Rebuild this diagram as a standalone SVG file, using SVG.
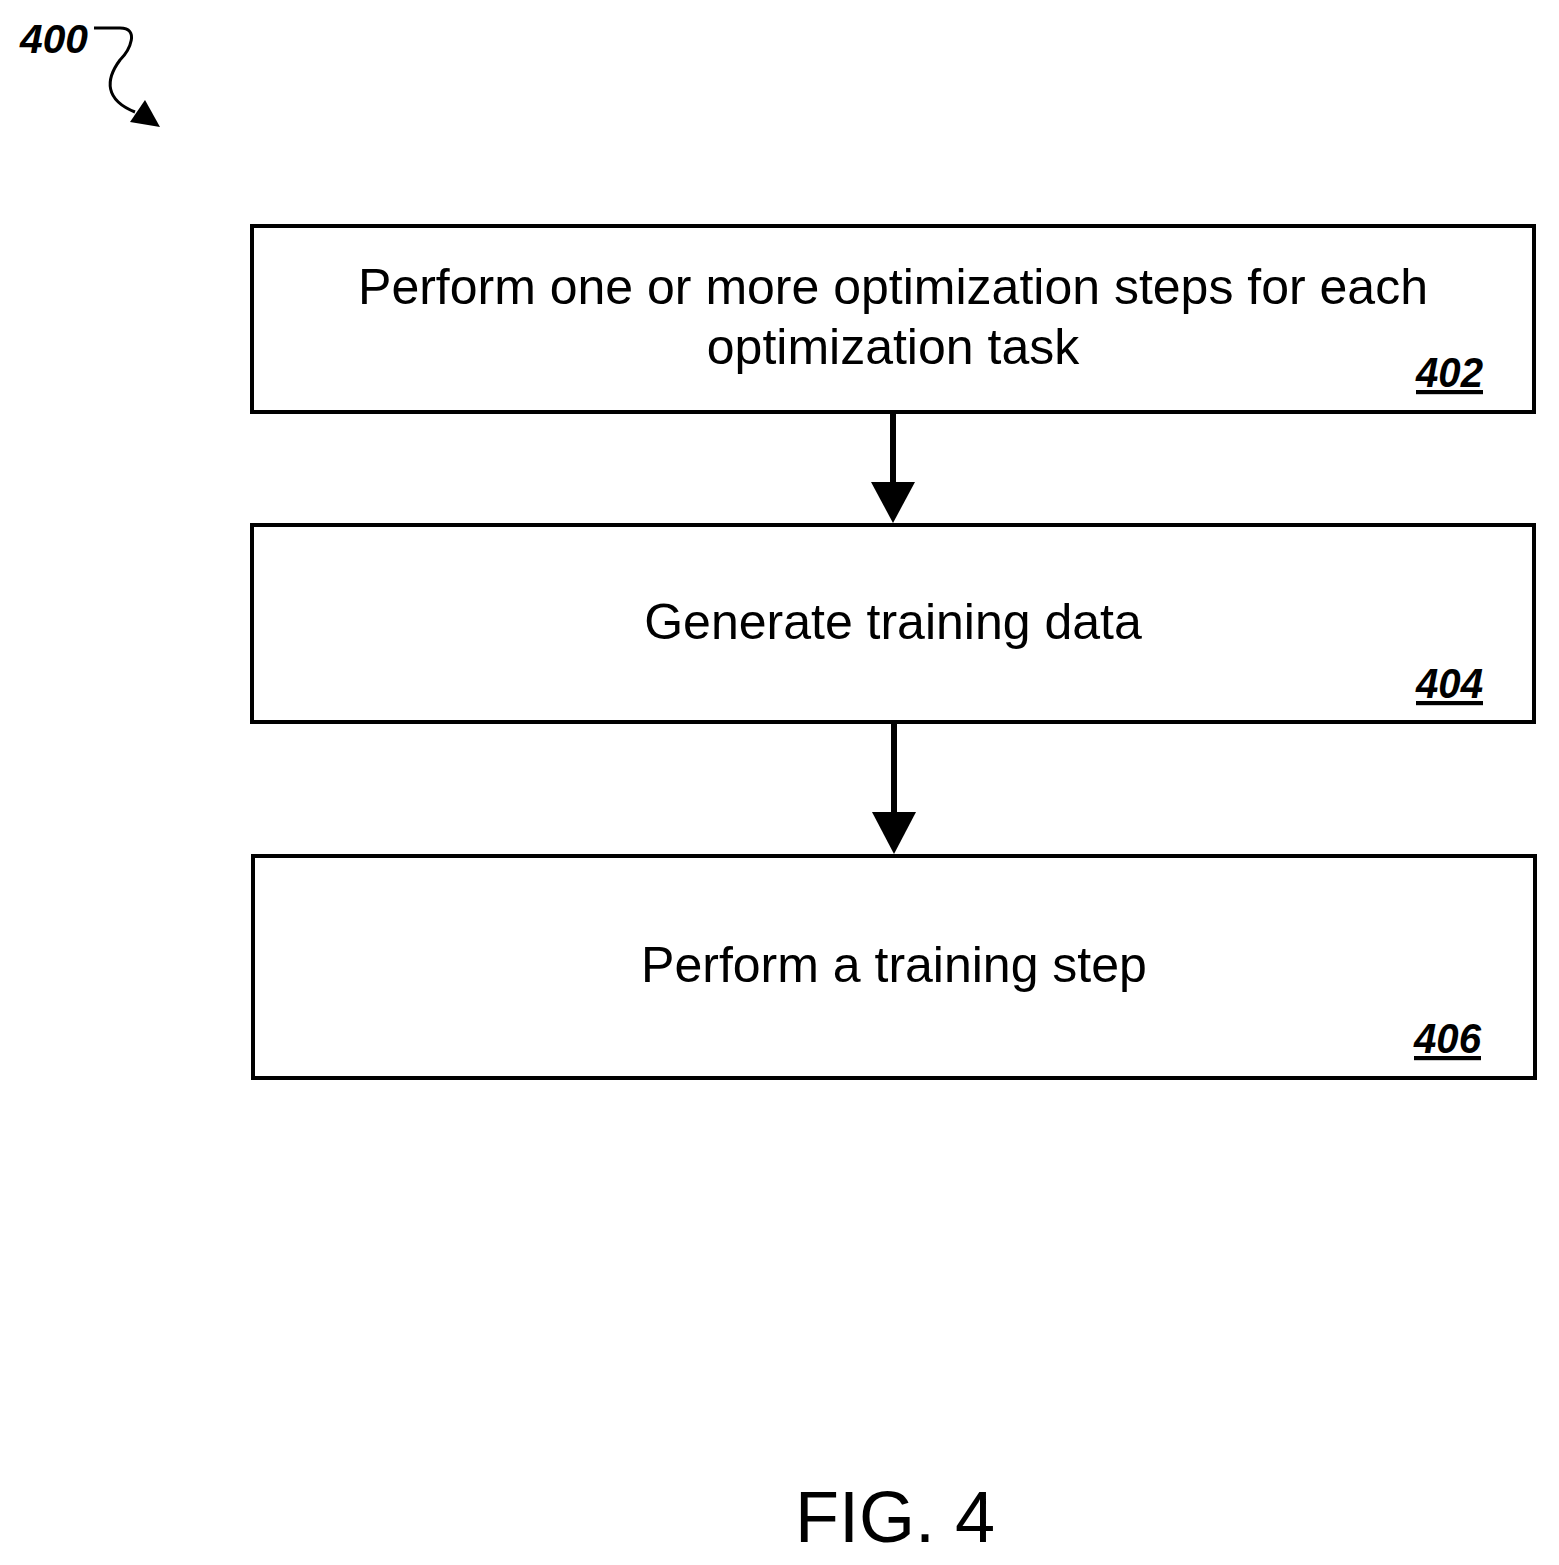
<svg xmlns="http://www.w3.org/2000/svg" width="1559" height="1565" viewBox="0 0 1559 1565">
<style>
.box{fill:#fff;stroke:#000;stroke-width:4}
.t{font-family:"Liberation Sans",Arial,sans-serif;font-size:50px;text-anchor:middle}
.n{font-family:"Liberation Sans",Arial,sans-serif;font-size:42px;font-weight:bold;font-style:italic;text-decoration:underline;text-anchor:end}
.c{stroke:#000;stroke-width:6;fill:none}
</style>
<rect width="1559" height="1565" fill="#fff"/>
<text x="20" y="53" font-family="Liberation Sans,Arial,sans-serif" font-size="40" font-weight="bold" font-style="italic" textLength="68" lengthAdjust="spacingAndGlyphs">400</text>
<path d="M94 28 H120 C140 28 130 50 120 60 C105 80 105 100 135 112" fill="none" stroke="#000" stroke-width="3"/>
<polygon points="130,122 160,127 145,100" fill="#000"/>
<g id="n402"><rect class="box" x="252" y="226" width="1282" height="186"/>
<text class="t" x="893" y="304">Perform one or more optimization steps for each</text>
<text class="t" x="893" y="364">optimization task</text>
<text class="n" x="1483" y="387" textLength="67" lengthAdjust="spacingAndGlyphs">402</text></g>
<g id="n404"><rect class="box" x="252" y="525" width="1282" height="197"/>
<text class="t" x="893" y="639">Generate training data</text>
<text class="n" x="1483" y="698" textLength="67" lengthAdjust="spacingAndGlyphs">404</text></g>
<g id="n406"><rect class="box" x="253" y="856" width="1282" height="222"/>
<text class="t" x="894" y="982">Perform a training step</text>
<text class="n" x="1481" y="1053" textLength="67" lengthAdjust="spacingAndGlyphs">406</text></g>
<g id="connectors">
<line class="c" x1="893" y1="412" x2="893" y2="485"/>
<polygon points="871,482 915,482 893,523" fill="#000"/>
<line class="c" x1="894" y1="722" x2="894" y2="815"/>
<polygon points="872,812 916,812 894,854" fill="#000"/>
</g>
<text x="895" y="1542" font-family="Liberation Sans,Arial,sans-serif" font-size="72" text-anchor="middle">FIG. 4</text>
</svg>
